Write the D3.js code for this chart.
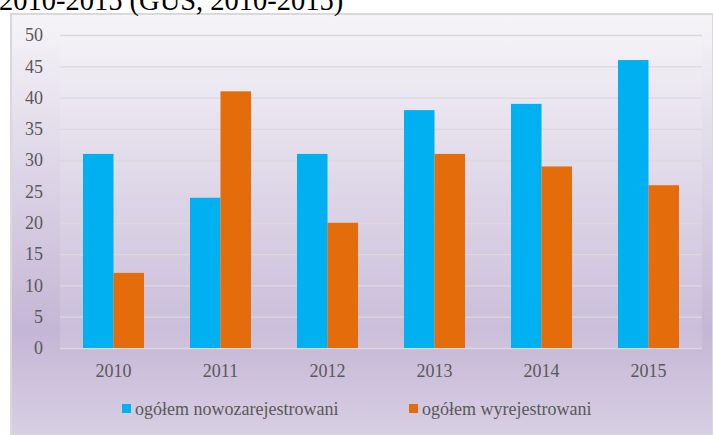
<!DOCTYPE html>
<html>
    <head>
        <meta charset="utf-8">
        <script src="https://cdnjs.cloudflare.com/ajax/libs/d3/7.8.5/d3.min.js"></script>
        <style>
            body{
                margin: 0;
                background: #fff;
            }
        </style>
    </head>
    <body>
        <svg id="chart" width="713" height="435"></svg>
    </body>
    <script>
        const years = ["2010", "2011", "2012", "2013", "2014", "2015"]
        const seriesNames = ["ogółem nowozarejestrowani", "ogółem wyrejestrowani"]
        const registered = [31, 24, 31, 38, 39, 46]
        const deregistered = [12, 41, 20, 31, 29, 26]
        const yTicks = [0, 5, 10, 15, 20, 25, 30, 35, 40, 45, 50]
        const colors = ["#00b0f0", "#e46c0a"]
        const serif = "'Liberation Serif', 'Times New Roman', serif"

        const svg = d3.select("#chart")
        const W = 713, H = 435
        const margin = {top: 35, right: 11, bottom: 87, left: 60}
        const plotW = W - margin.left - margin.right
        const plotH = H - margin.top - margin.bottom

        const defs = svg.append("defs")
        const grad = defs.append("linearGradient")
            .attr("id", "bg")
            .attr("x1", 0).attr("y1", 0).attr("x2", 0).attr("y2", 1)
        grad.append("stop").attr("offset", "0%").attr("stop-color", "#f6f4f8")
        grad.append("stop").attr("offset", "75%").attr("stop-color", "#c4b6d5")
        grad.append("stop").attr("offset", "100%").attr("stop-color", "#d8cfe3")

        svg.append("rect")
            .attr("x", 11)
            .attr("y", 14)
            .attr("width", W - 11)
            .attr("height", H - 14)
            .attr("fill", "url(#bg)")
            .attr("stroke", "#d9d9d9")
            .attr("stroke-width", 2)

        // caption cut off above the chart
        svg.append("text")
            .attr("x", -1)
            .attr("y", 10)
            .style("font-family", serif)
            .style("font-size", "28.5px")
            .attr("fill", "#000")
            .text("2010-2015 (GUS, 2010-2015)")

        const g = svg.append("g")
            .attr("transform", `translate(${margin.left},${margin.top})`)

        g.append("rect")
            .attr("width", plotW)
            .attr("height", plotH)
            .attr("fill", "#fff")
            .attr("opacity", 0.12)

        const x = d3.scaleBand()
            .domain(years)
            .range([0, plotW])
            .paddingInner(0.43)
            .paddingOuter(0.215)

        const xSub = d3.scaleBand()
            .domain([0, 1])
            .range([0, x.bandwidth()])

        const y = d3.scaleLinear()
            .domain([0, 50])
            .range([plotH, 0])

        // gridlines
        g.append("g")
            .selectAll("line")
            .data(yTicks)
            .join("line")
            .attr("x1", 0)
            .attr("x2", plotW)
            .attr("y1", d => y(d) + 0.5)
            .attr("y2", d => y(d) + 0.5)
            .attr("stroke", "#dcd8e0")
            .attr("stroke-width", 1.3)

        const yAxis = g.append("g")
            .call(d3.axisLeft(y).tickValues(yTicks).tickSize(0).tickPadding(17))
        yAxis.select(".domain").remove()
        yAxis.selectAll("text")
            .style("font-family", serif)
            .style("font-size", "18px")
            .attr("fill", "#595959")

        const rows = years.map((yr, i) => ({year: yr, values: [registered[i], deregistered[i]]}))

        const groups = g.selectAll(".cat")
            .data(rows)
            .join("g")
            .attr("class", "cat")
            .attr("transform", d => `translate(${x(d.year)},0)`)

        groups.selectAll("rect")
            .data(d => d.values.map((v, k) => ({k, v})))
            .join("rect")
            .attr("x", d => xSub(d.k))
            .attr("y", d => y(d.v))
            .attr("width", xSub.bandwidth())
            .attr("height", d => plotH - y(d.v))
            .attr("fill", d => colors[d.k])

        const xAxis = g.append("g")
            .attr("transform", `translate(0,${plotH})`)
            .call(d3.axisBottom(x).tickSize(0).tickPadding(16))
        xAxis.select(".domain").remove()
        xAxis.selectAll("text")
            .style("font-family", serif)
            .style("font-size", "18px")
            .attr("fill", "#595959")

        // legend
        const legendX = [122, 409]
        const legend = svg.append("g")
            .selectAll("g")
            .data(seriesNames)
            .join("g")
            .attr("transform", (d, i) => `translate(${legendX[i]},409)`)
        legend.append("rect")
            .attr("x", 0)
            .attr("y", -5)
            .attr("width", 9)
            .attr("height", 9)
            .attr("fill", (d, i) => colors[i])
        legend.append("text")
            .attr("x", 13)
            .attr("y", 0)
            .attr("dy", "0.35em")
            .style("font-family", serif)
            .style("font-size", "18px")
            .attr("fill", "#595959")
            .text(d => d)
    </script>
</html>
